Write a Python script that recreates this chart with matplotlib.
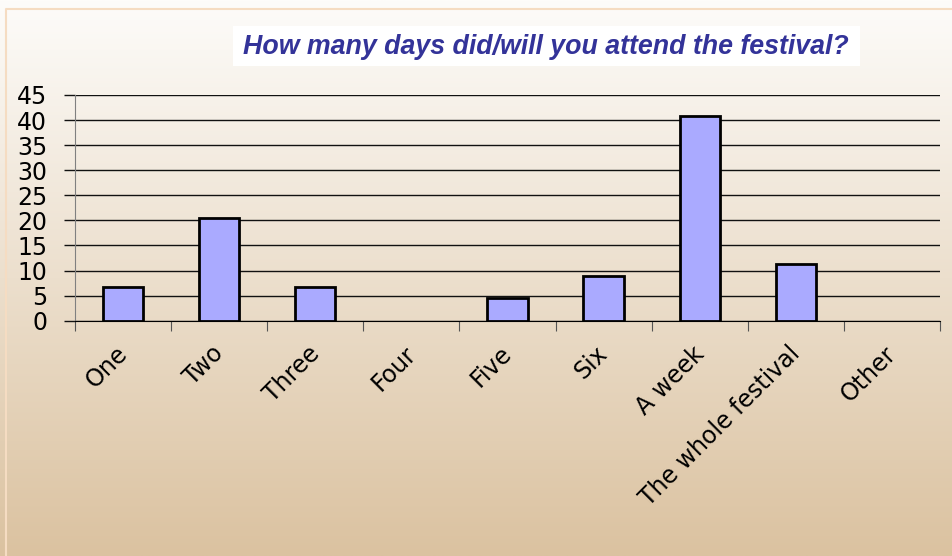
import matplotlib
matplotlib.use("Agg")
import matplotlib.pyplot as plt
import matplotlib.patches as pat
from matplotlib.transforms import ScaledTranslation
import numpy as np

categories = ["One", "Two", "Three", "Four", "Five", "Six", "A week",
              "The whole festival", "Other"]
values = [6.7, 20.4, 6.7, 0, 4.5, 9.0, 40.9, 11.3, 0]
y_ticks = [0, 5, 10, 15, 20, 25, 30, 35, 40, 45]
title = "How many days did/will you attend the festival?"

W, H = 952, 556
fig = plt.figure(figsize=(W / 100, H / 100), dpi=100)

# background gradient (light cream at top, tan at bottom)
bg = fig.add_axes([0, 0, 1, 1], zorder=-10)
top = np.array([0xfd, 0xfc, 0xfa]) / 255
bot = np.array([0xdb, 0xc2, 0xa0]) / 255
t = np.linspace(0, 1, 256)[:, None, None]
grad = top * (1 - t) + bot * t
grad = np.repeat(grad, 2, axis=1)
bg.imshow(grad, aspect="auto", extent=[0, W, H, 0])
bg.set_xlim(0, W)
bg.set_ylim(H, 0)
bg.axis("off")
# thin outer frame
bg.plot([6, 6, W], [H, 9, 9], color="#f5dcc2", lw=1.5)
# white box behind title
bg.add_patch(pat.Rectangle((233, 26), 627, 40, facecolor="white", edgecolor="none"))
bg.text(546, 47, title, ha="center", va="center", fontsize=19.3,
        family="Liberation Sans", weight="bold", style="italic", color="#333399")

# main chart area
x0, x1, ytop, y0 = 75, 940, 95, 320.7
ax = fig.add_axes([x0 / W, (H - y0) / H, (x1 - x0) / W, (y0 - ytop) / H])
ax.patch.set_alpha(0)

xc = np.arange(len(categories)) + 0.5
lws = [2 if v > 0 else 0 for v in values]
ax.bar(xc, values, width=0.42, color="#aaaaff", edgecolor="black", linewidth=lws, zorder=3)

ax.set_xlim(0, len(categories))
ax.set_ylim(0, 45)
ax.set_yticks(y_ticks)
ax.set_yticklabels([str(v) for v in y_ticks], fontsize=17)
ax.yaxis.grid(True, color="#111111", lw=1)
ax.set_axisbelow(True)
ax.tick_params(axis="y", length=8, width=1, color="#111111", pad=12)

ax.set_xticks(np.arange(len(categories) + 1))
ax.set_xticklabels([])
ax.set_xticks(xc, minor=True)
ax.set_xticklabels(categories, minor=True, rotation=45, ha="right",
                   va="top", rotation_mode="anchor", fontsize=17)
ax.tick_params(axis="x", which="major", length=7, color="#555555")
ax.tick_params(axis="x", which="minor", length=0, pad=15)
for lbl in ax.get_xticklabels(minor=True):
    lbl.set_transform(lbl.get_transform() + ScaledTranslation(-0.08, 0, fig.dpi_scale_trans))

for s in ["top", "right"]:
    ax.spines[s].set_visible(False)
ax.spines["left"].set_color("#808080")
ax.spines["bottom"].set_color("black")

fig.savefig("out.png", dpi=100)
